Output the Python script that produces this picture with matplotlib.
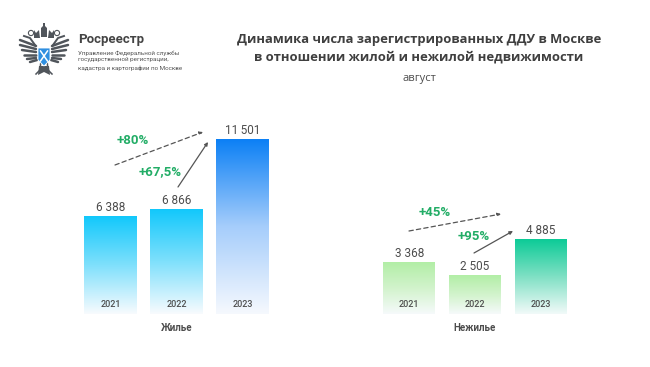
import numpy as np
import matplotlib
matplotlib.use('Agg')
import matplotlib.pyplot as plt
from matplotlib.colors import LinearSegmentedColormap
from matplotlib.patches import Polygon, Circle

years = ['2021', '2022', '2023']
housing = [6388, 6866, 11501]
non_housing = [3368, 2505, 4885]
housing_labels = ['6 388', '6 866', '11\u2009501']
non_housing_labels = ['3 368', '2 505', '4 885']
group_names = ['Жилье', 'Нежилье']
housing_colors = [['#f8fbfe', '#7fe0fc', '#12c8fb'], ['#f8fbfe', '#7fe0fc', '#12c8fb'],
                  ['#f6f9fe', '#a5cdfb', '#0a7ff5']]
non_housing_colors = [['#f6fafb', '#d2f3cc', '#b2eea6'], ['#f6fafb', '#d2f3cc', '#b2eea6'],
                      ['#f2faf9', '#7fe0c4', '#0ccb97']]

W, H = 650, 367
GRAY = '#4d4d4d'
GREEN = '#22ad66'

plt.rcParams['font.family'] = ['Roboto', 'DejaVu Sans']
fig = plt.figure(figsize=(W / 100, H / 100), dpi=100, facecolor='white')


def make_axes(x0, x1):
    ax = fig.add_axes([x0 / W, 1 - 314 / H, (x1 - x0) / W, (314 - 139) / H])
    ax.axis('off')
    return ax


def draw_bars(ax, values, labels, colors, name):
    bars = ax.bar(range(3), values, width=0.79, color='none')
    for i, rect in enumerate(bars):
        cmap = LinearSegmentedColormap.from_list('g', colors[i])
        grad = np.linspace(1, 0, 256).reshape(-1, 1)
        ax.imshow(grad, cmap=cmap, aspect='auto', zorder=2,
                  extent=[rect.get_x(), rect.get_x() + rect.get_width(), 0, rect.get_height()])
        ax.text(i, values[i] + 590, labels[i], ha='center', va='center', fontsize=8.5,
                color=GRAY, clip_on=False)
        ax.text(i, 620, years[i], ha='center', va='center', fontsize=6.5, fontweight='medium',
                color=GRAY, zorder=3)
    ax.set_xlim(-0.4, 2.4)
    ax.set_ylim(0, 11501)
    ax.text(1, -920, name, ha='center', va='center', fontsize=7, fontweight='bold',
            color=GRAY, clip_on=False)


draw_bars(make_axes(84, 269), housing, housing_labels, housing_colors, group_names[0])
draw_bars(make_axes(383, 567), non_housing, non_housing_labels, non_housing_colors, group_names[1])

# overlay in pixel coords for title, logo and growth arrows
ov = fig.add_axes([0, 0, 1, 1], zorder=5)
ov.set_xlim(0, W)
ov.set_ylim(H, 0)
ov.axis('off')
ov.patch.set_alpha(0)

for y, line in zip([39, 57], ['Динамика числа зарегистрированных ДДУ в Москве',
                              'в отношении жилой и нежилой недвижимости']):
    ov.text(419, y, line, ha='center', va='center', fontsize=9.4, fontweight='bold',
            color='#3f3f3f', family='Open Sans')
ov.text(419, 79, 'август', ha='center', va='center', fontsize=8, color=GRAY, family='Open Sans')

ov.text(78, 40, 'Росреестр', ha='left', va='center', fontsize=9.5, fontweight='bold', color='#444444')
for y, line in zip([53, 60, 68], ['Управление Федеральной службы',
                                  'государственной регистрации,',
                                  'кадастра и картографии по Москве']):
    ov.text(78, y, line, ha='left', va='center', fontsize=4.5, color='#555555')

# emblem
DARK = '#50555b'
cx = 44
for s in (-1, 1):
    # wing feathers
    for tip, root in [((24, 40), (8, 46)), ((24, 45), (8, 49)), ((22, 50), (8, 52)),
                      ((20, 55), (8, 55)), ((17, 59), (8, 58)), ((14, 62), (7, 60))]:
        ov.plot([cx + s * root[0], cx + s * tip[0]], [root[1], tip[1]], color=DARK, lw=1.8,
                solid_capstyle='round')
    ov.plot([cx + s * 9, cx + s * 14, cx + s * 20], [45, 38, 36], color=DARK, lw=1.4)
    # heads and crowns
    ov.add_patch(Circle((cx + s * 13, 33), 2.6, fc='white', ec=DARK, lw=0.8))
    ov.add_patch(Polygon([(cx + s * 4, 38), (cx + s * 5, 30), (cx + s * 8, 33), (cx + s * 10, 30),
                          (cx + s * 10, 38)], closed=True, fc=DARK, ec='none'))
    ov.plot([cx + s * 2, cx + s * 4, cx + s * 8], [50, 70, 74], color=DARK, lw=1.1)
ov.add_patch(Polygon([(39, 66), (49, 66), (50, 75), (44, 72), (38, 75)], closed=True, fc=DARK, ec='none'))
ov.add_patch(Polygon([(41, 37), (47, 37), (47, 28), (45, 26), (45, 23), (43, 23), (43, 26), (41, 28)],
                     closed=True, fc=DARK, ec='none'))
ov.add_patch(Polygon([(38, 48), (50, 48), (50, 60), (44, 66), (38, 60)], closed=True, fc='#2f8fe0',
                     ec='white', lw=0.6, zorder=4))
ov.plot([40.5, 47.5], [51, 61], color='white', lw=1.1, zorder=5)
ov.plot([47.5, 40.5], [51, 61], color='white', lw=1.1, zorder=5)

# growth arrows
ARROW = '#555555'
arrows = [((115, 165), (203, 132), (0, (3.5, 2.5))), ((178, 187), (208, 142), '-'),
          ((409, 231), (501, 214), (0, (3.5, 2.5))), ((474, 253), (513, 231), '-')]
for start, end, ls in arrows:
    ov.annotate('', xy=end, xytext=start,
                arrowprops=dict(arrowstyle='-|>', color=ARROW, lw=0.9, linestyle=ls,
                                mutation_scale=5, shrinkA=0, shrinkB=0))
growth = [('+80%', 133, 140), ('+67,5%', 160, 172), ('+45%', 435, 212), ('+95%', 474, 236)]
for txt, x, y in growth:
    ov.text(x, y, txt, ha='center', va='center', fontsize=9.5, fontweight='bold', color=GREEN)

fig.savefig('out.png', dpi=100)
